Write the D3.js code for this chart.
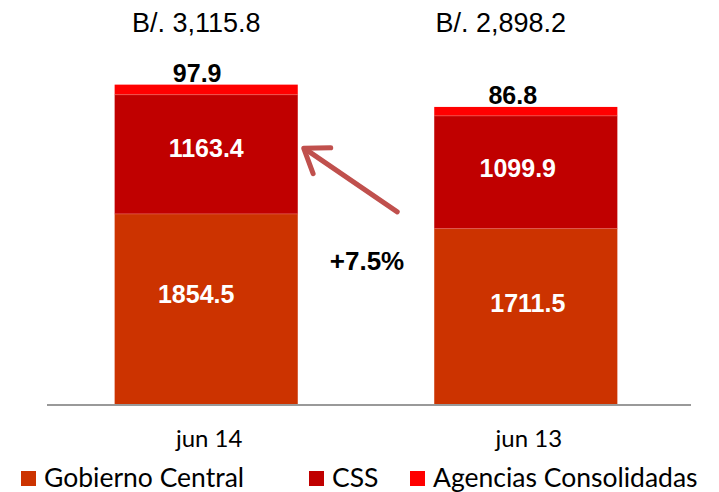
<!DOCTYPE html>
<html>
<head>
<meta charset="utf-8">
<script src="https://cdn.jsdelivr.net/npm/d3@7"></script>
<style>
    body { margin: 0; background: #fff; }
    svg { display: block; }
</style>
</head>
<body>
<div class="chart"></div>
<script>
// data
const categories = ['jun 14', 'jun 13'];
const seriesNames = ['Gobierno Central', 'CSS', 'Agencias Consolidadas'];
const gobierno = [1854.5, 1711.5];
const css = [1163.4, 1099.9];
const agencias = [97.9, 86.8];
const totalLabels = ['B/. 3,115.8', 'B/. 2,898.2'];
const changeLabel = '+7.5%';

const width = 719, height = 492;
const colors = ['#CC3300', '#C00000', '#FF0000'];

let svg = d3.select('.chart')
    .append('svg')
    .attr('width', width)
    .attr('height', height);

let rows = categories.map((c, i) => ({
    cat: c,
    'Gobierno Central': gobierno[i],
    'CSS': css[i],
    'Agencias Consolidadas': agencias[i]
}));
let stackData = d3.stack().keys(seriesNames)(rows);

let x_scale = d3.scaleBand()
    .domain(categories)
    .range([44, 688])
    .paddingInner(0.427)
    .paddingOuter(0.221);
let y_scale = d3.scaleLinear()
    .domain([0, 3600])
    .range([404, 35]);
let color = d3.scaleOrdinal()
    .domain(seriesNames)
    .range(colors);

// bars
svg.append('g')
    .selectAll('g')
    .data(stackData)
    .join('g')
    .attr('fill', d => color(d.key))
    .selectAll('rect')
    .data(d => d)
    .join('rect')
    .attr('x', d => x_scale(d.data.cat))
    .attr('y', d => y_scale(d[1]))
    .attr('height', d => y_scale(d[0]) - y_scale(d[1]))
    .attr('width', x_scale.bandwidth());

// thin light seams between segments
svg.append('g')
    .selectAll('line')
    .data(stackData.slice(1).flatMap(s => s))
    .join('line')
    .attr('x1', d => x_scale(d.data.cat))
    .attr('x2', d => x_scale(d.data.cat) + x_scale.bandwidth())
    .attr('y1', d => y_scale(d[0]))
    .attr('y2', d => y_scale(d[0]))
    .attr('stroke', '#E8665A')
    .attr('stroke-width', 1)
    .attr('opacity', 0.6);

// baseline
svg.append('line')
    .attr('x1', 47).attr('x2', 691)
    .attr('y1', y_scale(0) + 1).attr('y2', y_scale(0) + 1)
    .attr('stroke', '#999')
    .attr('stroke-width', 2);

// category axis
let x_Axis = d3.axisBottom(x_scale).tickSize(0).tickPadding(26);
let gx = svg.append('g')
    .attr('transform', `translate(${0}, ${y_scale(0)})`)
    .call(x_Axis);
gx.select('.domain').remove();
gx.selectAll('text')
    .attr('font-family', 'Lato, sans-serif')
    .attr('font-size', 24)
    .attr('fill', '#000')
    .attr('dx', 3);

const mid = d => x_scale(d) + x_scale.bandwidth() / 2;

// segment labels (white, bold)
const segNudge = {
    'Gobierno Central': [[-10, -15], [2, -13]],
    'CSS': [[0, -6], [-8, -4]]
};
['Gobierno Central', 'CSS'].forEach(key => {
    let s = stackData.find(d => d.key === key);
    svg.append('g')
        .selectAll('text')
        .data(s)
        .join('text')
        .attr('x', (d, i) => mid(d.data.cat) + segNudge[key][i][0])
        .attr('y', (d, i) => (y_scale(d[0]) + y_scale(d[1])) / 2 + segNudge[key][i][1])
        .attr('dy', '0.35em')
        .attr('text-anchor', 'middle')
        .attr('font-family', 'Liberation Sans, Arial, sans-serif')
        .attr('font-weight', 'bold')
        .attr('font-size', 25)
        .attr('fill', '#fff')
        .text(d => d.data[key].toFixed(1));
});

// agencias labels above bars
let topStack = stackData[2];
svg.append('g')
    .selectAll('text')
    .data(topStack)
    .join('text')
    .attr('x', (d, i) => mid(d.data.cat) + [-9, -13][i])
    .attr('y', d => y_scale(d[1]) - 3)
    .attr('text-anchor', 'middle')
    .attr('font-family', 'Liberation Sans, Arial, sans-serif')
    .attr('font-weight', 'bold')
    .attr('font-size', 25)
    .attr('fill', '#000')
    .text(d => d.data['Agencias Consolidadas'].toFixed(1));

// totals on top
svg.append('g')
    .selectAll('text')
    .data(categories)
    .join('text')
    .attr('x', (d, i) => mid(d) + [-10, -25][i])
    .attr('y', 32)
    .attr('text-anchor', 'middle')
    .attr('font-family', 'Liberation Sans, Arial, sans-serif')
    .attr('font-size', 27)
    .attr('fill', '#000')
    .text((d, i) => totalLabels[i]);

// growth arrow
let tipX = x_scale(categories[0]) + x_scale.bandwidth() + 6;
let tipY = y_scale(gobierno[0] + css[0] * 0.55);
let tailX = x_scale(categories[1]) - 37;
let tailY = y_scale(gobierno[0]) - 2;
let ang = Math.atan2(tailY - tipY, tailX - tipX);
let headLen = 27, spread = 0.62;
let arrow = svg.append('g')
    .attr('stroke', '#C0504D')
    .attr('stroke-width', 5)
    .attr('stroke-linecap', 'round')
    .attr('stroke-linejoin', 'round')
    .attr('fill', 'none');
arrow.append('line')
    .attr('x1', tailX).attr('y1', tailY)
    .attr('x2', tipX + 2).attr('y2', tipY + 1);
arrow.append('path')
    .attr('d', d3.line()([
        [tipX + headLen * Math.cos(ang - spread), tipY + headLen * Math.sin(ang - spread)],
        [tipX, tipY],
        [tipX + headLen * Math.cos(ang + spread), tipY + headLen * Math.sin(ang + spread)]
    ]));

svg.append('text')
    .attr('x', (x_scale(categories[0]) + x_scale.bandwidth() + x_scale(categories[1])) / 2 + 1)
    .attr('y', 270)
    .attr('text-anchor', 'middle')
    .attr('font-family', 'Liberation Sans, Arial, sans-serif')
    .attr('font-weight', 'bold')
    .attr('font-size', 26)
    .attr('fill', '#000')
    .text(changeLabel);

// legend
const legendX = [21, 309, 410];
let legend = svg.append('g')
    .selectAll('g')
    .data(seriesNames)
    .join('g')
    .attr('transform', (d, i) => `translate(${legendX[i]}, ${471})`);
legend.append('rect')
    .attr('width', 15)
    .attr('height', 15)
    .attr('fill', d => color(d));
legend.append('text')
    .attr('x', 23)
    .attr('y', 16)
    .attr('font-family', 'Lato, sans-serif')
    .attr('font-size', 26.5)
    .attr('fill', '#000')
    .text(d => d);
</script>
</body>
</html>
